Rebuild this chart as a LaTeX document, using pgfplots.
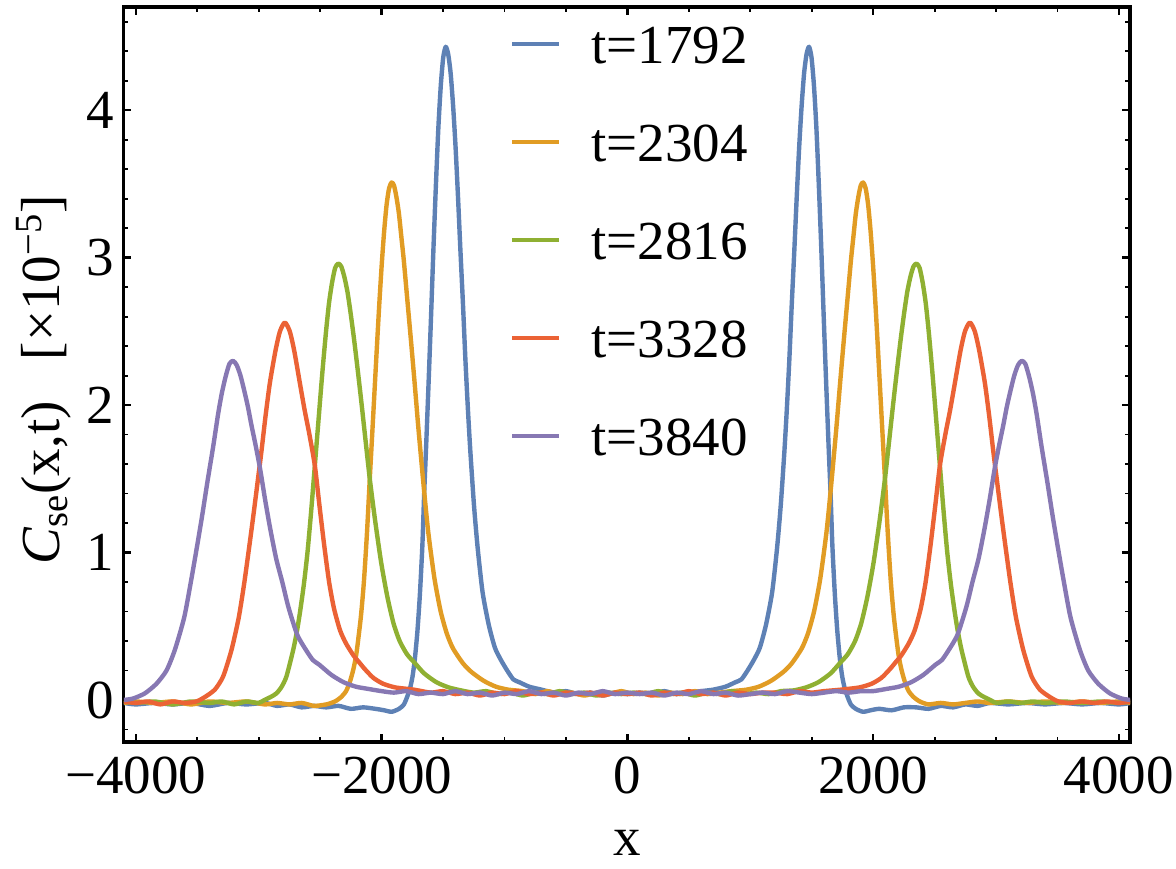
\documentclass[border=0pt]{standalone}
\usepackage{pgfplots}
\pgfplotsset{compat=1.18}
\usepackage{fontspec}
\setmainfont{Liberation Serif}
\definecolor{mblue}{rgb}{0.368417,0.506779,0.709798}
\definecolor{morange}{rgb}{0.880722,0.611041,0.142051}
\definecolor{mgreen}{rgb}{0.560181,0.691569,0.194885}
\definecolor{mred}{rgb}{0.922526,0.385626,0.209179}
\definecolor{mpurple}{rgb}{0.528488,0.470624,0.701351}
\begin{document}
\begin{tikzpicture}
\path[use as bounding box] (-61.75pt,-63pt) rectangle (526.25pt,371pt);
\begin{axis}[
  at={(0,0)}, anchor=south west,
  scale only axis, width=503.25pt, height=367.5pt,
  xmin=-4100, xmax=4090, ymin=-0.285, ymax=4.70,
  xtick={-4000,-2000,0,2000,4000},
  xticklabels={−4000,−2000,0,2000,4000},
  minor xtick={-3500,-3000,-2500,-1500,-1000,-500,500,1000,1500,2500,3000,3500},
  ytick={0,1,2,3,4},
  yticklabels={0,1,2,3,4},
  minor ytick={-0.2,0.2,0.4,0.6,0.8,1.2,1.4,1.6,1.8,2.2,2.4,2.6,2.8,3.2,3.4,3.6,3.8,4.2,4.4,4.6},
  tick align=inside,
  major tick length=4pt, minor tick length=2.5pt,
  every major tick/.style={black, line width=1.2pt},
  every minor tick/.style={black, line width=0.9pt},
  axis line style={line width=1.6pt, black},
  tick label style={font=\fontsize{27.5}{33}\selectfont, inner sep=0pt},
  xticklabel shift=7.5pt,
  yticklabel shift=4.5pt,
  xlabel={x},
  ylabel={\textit{C}\textsubscript{se}(x,t)\hspace{0.75em}[×10\textsuperscript{−5}]},
  every axis x label/.style={at={(rel axis cs:0.5,-0.155)}, anchor=base, inner sep=0pt, font=\fontsize{27.5}{33}\selectfont},
  every axis y label/.style={at={(rel axis cs:-0.0631,0.4925)}, anchor=base, rotate=90, font=\fontsize{27.5}{33}\selectfont},
  legend cell align=left,
  legend style={draw=none, fill=none, at={(rel axis cs:0.384,0.9755)}, anchor=north west,
    inner sep=0pt, outer sep=0pt, row sep=30pt, column sep=15pt,
    font=\fontsize{27.5}{33}\selectfont,
    nodes={inner sep=0pt, text height=19pt, text depth=0pt}},
  legend image code/.code={\draw[#1] (0pt,0pt) -- (23.5pt,0pt);},
  every axis plot/.append style={line width=2.2pt, line join=round, smooth, tension=0.4},
]
\addplot[mblue] coordinates {
(-4096,-0.02) (-4000,-0.03) (-3850,-0.02) (-3700,-0.03) (-3550,-0.02) (-3400,-0.04) (-3250,-0.02) (-3100,-0.03) (-2950,-0.02) (-2850,-0.04) (-2750,-0.03) (-2650,-0.05) (-2550,-0.04) (-2450,-0.05) (-2350,-0.04) (-2250,-0.06) (-2150,-0.05) (-2050,-0.06) (-1978,-0.07) (-1918,-0.08) (-1858,-0.06) (-1818,-0.03) (-1788,0.03) (-1768,0.08) (-1748,0.16) (-1729,0.28) (-1708,0.47) (-1688,0.72) (-1668,1.05) (-1653,1.41) (-1638,1.71) (-1618,2.14) (-1598,2.59) (-1578,3.06) (-1558,3.49) (-1538,3.88) (-1518,4.17) (-1498,4.36) (-1478,4.43) (-1458,4.38) (-1438,4.25) (-1418,4.03) (-1398,3.75) (-1378,3.41) (-1358,3.04) (-1338,2.69) (-1318,2.31) (-1298,1.98) (-1278,1.69) (-1248,1.32) (-1218,1.03) (-1178,0.73) (-1128,0.51) (-1078,0.355) (-1028,0.27) (-978,0.20) (-928,0.14) (-878,0.12) (-798,0.09) (-698,0.07) (-600,0.05) (-500,0.06) (-400,0.04) (-300,0.05) (-200,0.03) (-100,0.05)
(0,0.04) (100,0.05) (200,0.04) (300,0.06) (400,0.04) (500,0.05) (600,0.06) (698,0.07) (798,0.09) (878,0.12) (928,0.14) (978,0.20) (1028,0.27) (1078,0.355) (1128,0.51) (1178,0.73) (1218,1.03) (1248,1.32) (1278,1.69) (1298,1.98) (1318,2.31) (1338,2.69) (1358,3.04) (1378,3.41) (1398,3.75) (1418,4.03) (1438,4.25) (1458,4.38) (1478,4.43) (1498,4.36) (1518,4.17) (1538,3.88) (1558,3.49) (1578,3.06) (1598,2.59) (1618,2.14) (1638,1.71) (1653,1.41) (1668,1.05) (1688,0.72) (1708,0.47) (1729,0.28) (1748,0.16) (1768,0.08) (1788,0.03) (1818,-0.03) (1858,-0.06) (1918,-0.08) (1978,-0.07) (2050,-0.06) (2150,-0.07) (2250,-0.05) (2350,-0.05) (2450,-0.06) (2550,-0.04) (2650,-0.05) (2750,-0.03) (2850,-0.04) (2950,-0.02) (3100,-0.03) (3250,-0.02) (3400,-0.03) (3550,-0.02) (3700,-0.03) (3850,-0.02) (4000,-0.03) (4096,-0.02)
};
\addlegendentry{t=1792}
\addplot[morange] coordinates {
(-4096,-0.02) (-4000,-0.01) (-3850,-0.02) (-3700,-0.01) (-3550,-0.03) (-3400,-0.01) (-3250,-0.02) (-3100,-0.01) (-2950,-0.03) (-2850,-0.02) (-2750,-0.03) (-2650,-0.02) (-2550,-0.04) (-2450,-0.03) (-2379,-0.01) (-2329,0.02) (-2289,0.06) (-2259,0.12) (-2229,0.21) (-2204,0.32) (-2169,0.56) (-2144,0.80) (-2119,1.13) (-2096,1.50) (-2079,1.76) (-2059,2.07) (-2039,2.38) (-2019,2.68) (-1999,2.95) (-1979,3.18) (-1959,3.36) (-1939,3.47) (-1919,3.51) (-1899,3.49) (-1879,3.41) (-1859,3.30) (-1839,3.14) (-1819,2.98) (-1789,2.70) (-1759,2.42) (-1729,2.13) (-1699,1.83) (-1653,1.41) (-1619,1.13) (-1569,0.82) (-1519,0.60) (-1469,0.45) (-1419,0.35) (-1339,0.25) (-1269,0.19) (-1169,0.13) (-1069,0.09) (-969,0.07) (-850,0.06) (-750,0.04) (-650,0.06) (-550,0.04) (-450,0.05) (-350,0.03) (-250,0.05) (-150,0.04) (-50,0.06)
(50,0.04) (150,0.05) (250,0.03) (350,0.05) (450,0.04) (550,0.06) (650,0.04) (750,0.05) (850,0.06) (969,0.07) (1069,0.09) (1169,0.13) (1269,0.19) (1339,0.25) (1419,0.35) (1469,0.45) (1519,0.60) (1569,0.82) (1619,1.13) (1653,1.41) (1699,1.83) (1729,2.13) (1759,2.42) (1789,2.70) (1819,2.98) (1839,3.14) (1859,3.30) (1879,3.41) (1899,3.49) (1919,3.51) (1939,3.47) (1959,3.36) (1979,3.18) (1999,2.95) (2019,2.68) (2039,2.38) (2059,2.07) (2079,1.76) (2096,1.50) (2119,1.13) (2144,0.80) (2169,0.56) (2204,0.32) (2229,0.21) (2259,0.12) (2289,0.06) (2329,0.02) (2379,-0.01) (2450,-0.03) (2550,-0.02) (2650,-0.03) (2750,-0.02) (2850,-0.01) (2950,-0.02) (3100,-0.01) (3250,-0.02) (3400,-0.01) (3550,-0.02) (3700,-0.01) (3850,-0.02) (4000,-0.01) (4096,-0.02)
};
\addlegendentry{t=2304}
\addplot[mgreen] coordinates {
(-4096,-0.01) (-4000,-0.02) (-3850,-0.01) (-3700,-0.03) (-3550,-0.01) (-3400,-0.02) (-3300,-0.01) (-3200,-0.03) (-3100,-0.01) (-3003,-0.02) (-2953,0.00) (-2903,0.02) (-2855,0.045) (-2813,0.09) (-2774,0.16) (-2719,0.34) (-2688,0.47) (-2663,0.60) (-2633,0.78) (-2603,1.00) (-2573,1.28) (-2543,1.59) (-2513,1.90) (-2483,2.21) (-2453,2.49) (-2428,2.69) (-2403,2.83) (-2378,2.93) (-2353,2.96) (-2328,2.94) (-2303,2.87) (-2278,2.77) (-2253,2.63) (-2223,2.44) (-2193,2.23) (-2163,2.01) (-2133,1.78) (-2096,1.50) (-2053,1.22) (-2003,0.93) (-1953,0.70) (-1903,0.52) (-1853,0.40) (-1793,0.31) (-1729,0.25) (-1653,0.18) (-1553,0.12) (-1453,0.085) (-1353,0.065) (-1250,0.05) (-1150,0.06) (-1050,0.04) (-950,0.05) (-850,0.03) (-750,0.05) (-650,0.04) (-550,0.06) (-450,0.04) (-350,0.05) (-250,0.03) (-150,0.05) (-50,0.04)
(50,0.05) (150,0.04) (250,0.06) (350,0.04) (450,0.05) (550,0.03) (650,0.05) (750,0.04) (850,0.06) (950,0.04) (1050,0.05) (1150,0.04) (1250,0.06) (1353,0.065) (1453,0.085) (1553,0.12) (1653,0.18) (1729,0.25) (1793,0.31) (1853,0.40) (1903,0.52) (1953,0.70) (2003,0.93) (2053,1.22) (2096,1.50) (2133,1.78) (2163,2.01) (2193,2.23) (2223,2.44) (2253,2.63) (2278,2.77) (2303,2.87) (2328,2.94) (2353,2.96) (2378,2.93) (2403,2.83) (2428,2.69) (2453,2.49) (2483,2.21) (2513,1.90) (2543,1.59) (2573,1.28) (2603,1.00) (2633,0.78) (2663,0.60) (2688,0.47) (2719,0.34) (2774,0.16) (2813,0.09) (2855,0.045) (2903,0.02) (2953,0.00) (3003,-0.02) (3100,-0.01) (3200,-0.02) (3300,-0.01) (3400,-0.02) (3550,-0.01) (3700,-0.02) (3850,-0.01) (4000,-0.02) (4096,-0.01)
};
\addlegendentry{t=2816}
\addplot[mred] coordinates {
(-4096,-0.01) (-4000,-0.02) (-3900,-0.01) (-3800,-0.03) (-3700,-0.01) (-3600,-0.02) (-3507,-0.01) (-3438,0.02) (-3357,0.07) (-3289,0.16) (-3221,0.34) (-3162,0.56) (-3118,0.79) (-3080,1.02) (-3045,1.24) (-3010,1.47) (-2977,1.69) (-2945,1.92) (-2909,2.15) (-2863,2.37) (-2827,2.50) (-2787,2.56) (-2747,2.50) (-2711,2.37) (-2665,2.15) (-2627,1.97) (-2587,1.80) (-2543,1.59) (-2507,1.33) (-2467,1.05) (-2427,0.80) (-2387,0.62) (-2337,0.47) (-2287,0.38) (-2227,0.30) (-2187,0.26) (-2137,0.21) (-2067,0.15) (-1987,0.11) (-1887,0.085) (-1737,0.07) (-1600,0.05) (-1500,0.06) (-1400,0.04) (-1300,0.05) (-1200,0.03) (-1100,0.05) (-1000,0.04) (-900,0.06) (-800,0.04) (-700,0.05) (-600,0.03) (-500,0.05) (-400,0.04) (-300,0.05) (-200,0.03) (-100,0.05)
(0,0.04) (100,0.05) (200,0.03) (300,0.05) (400,0.04) (500,0.06) (600,0.04) (700,0.05) (800,0.03) (900,0.05) (1000,0.04) (1100,0.05) (1200,0.05) (1300,0.04) (1400,0.06) (1500,0.05) (1600,0.06) (1737,0.07) (1887,0.085) (1987,0.11) (2067,0.15) (2137,0.21) (2187,0.26) (2227,0.30) (2287,0.38) (2337,0.47) (2387,0.62) (2427,0.80) (2467,1.05) (2507,1.33) (2543,1.59) (2587,1.80) (2627,1.97) (2665,2.15) (2711,2.37) (2747,2.50) (2787,2.56) (2827,2.50) (2863,2.37) (2909,2.15) (2945,1.92) (2977,1.69) (3010,1.47) (3045,1.24) (3080,1.02) (3118,0.79) (3162,0.56) (3221,0.34) (3289,0.16) (3357,0.07) (3438,0.02) (3507,-0.01) (3600,-0.02) (3700,-0.01) (3800,-0.02) (3900,-0.01) (4000,-0.02) (4096,-0.01)
};
\addlegendentry{t=3328}
\addplot[mpurple] coordinates {
(-4096,0.00) (-4022,0.01) (-3926,0.045) (-3832,0.11) (-3750,0.20) (-3682,0.34) (-3606,0.56) (-3552,0.80) (-3506,1.02) (-3460,1.25) (-3417,1.48) (-3370,1.72) (-3330,1.94) (-3300,2.08) (-3270,2.19) (-3238,2.28) (-3208,2.30) (-3178,2.27) (-3148,2.20) (-3118,2.10) (-3088,1.99) (-3058,1.86) (-3028,1.74) (-2991,1.58) (-2948,1.36) (-2908,1.17) (-2858,0.96) (-2808,0.80) (-2758,0.63) (-2685,0.44) (-2608,0.33) (-2558,0.27) (-2508,0.24) (-2408,0.17) (-2308,0.12) (-2208,0.09) (-2108,0.075) (-2000,0.06) (-1900,0.05) (-1800,0.06) (-1700,0.04) (-1600,0.05) (-1500,0.04) (-1400,0.06) (-1300,0.04) (-1200,0.05) (-1100,0.03) (-1000,0.05) (-900,0.04) (-800,0.06) (-700,0.04) (-600,0.05) (-500,0.03) (-400,0.05) (-300,0.04) (-200,0.06) (-100,0.04)
(0,0.05) (100,0.04) (200,0.05) (300,0.03) (400,0.05) (500,0.04) (600,0.06) (700,0.04) (800,0.05) (900,0.03) (1000,0.04) (1100,0.05) (1200,0.04) (1300,0.06) (1400,0.05) (1500,0.04) (1600,0.05) (1700,0.06) (1800,0.05) (1900,0.06) (2000,0.06) (2108,0.075) (2208,0.09) (2308,0.12) (2408,0.17) (2508,0.24) (2558,0.27) (2608,0.33) (2685,0.44) (2758,0.63) (2808,0.80) (2858,0.96) (2908,1.17) (2948,1.36) (2991,1.58) (3028,1.74) (3058,1.86) (3088,1.99) (3118,2.10) (3148,2.20) (3178,2.27) (3208,2.30) (3238,2.28) (3270,2.19) (3300,2.08) (3330,1.94) (3370,1.72) (3417,1.48) (3460,1.25) (3506,1.02) (3552,0.80) (3606,0.56) (3682,0.34) (3750,0.20) (3832,0.11) (3926,0.045) (4022,0.01) (4096,0.00)
};
\addlegendentry{t=3840}
\end{axis}
\end{tikzpicture}
\end{document}
